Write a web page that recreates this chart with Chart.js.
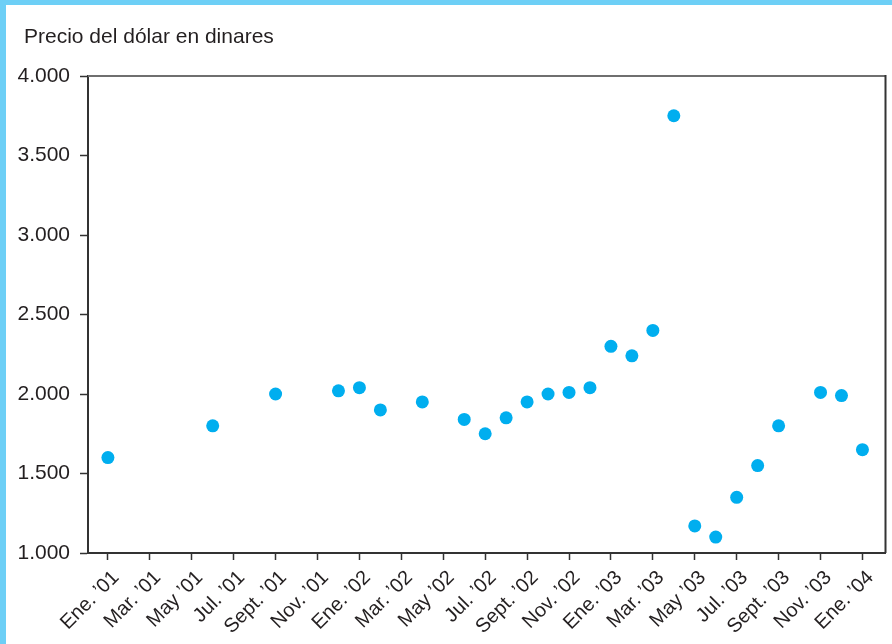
<!DOCTYPE html>
<html>
<head>
<meta charset="utf-8">
<script src="https://cdn.jsdelivr.net/npm/chart.js@4.4.1/dist/chart.umd.min.js"></script>
<style>
  html, body { margin: 0; padding: 0; background: #fff; }
  #wrap { position: relative; width: 892px; height: 644px; overflow: hidden; }
  #c { position: absolute; left: 0; top: 0; }
  .band-top { position: absolute; left: 0; top: 0; width: 892px; height: 5px; background: #6dcff6; }
  .band-left { position: absolute; left: 0; top: 0; width: 6px; height: 644px; background: #6dcff6; }
</style>
</head>
<body>
<div id="wrap">
  <canvas id="c" width="892" height="644"></canvas>
  <div class="band-top"></div>
  <div class="band-left"></div>
</div>
<script>
// ---- Data ----
const titleText = 'Precio del dólar en dinares';
const xTickLabels = ['Ene. ’01','Mar. ’01','May ’01','Jul. ’01','Sept. ’01','Nov. ’01',
  'Ene. ’02','Mar. ’02','May ’02','Jul. ’02','Sept. ’02','Nov. ’02',
  'Ene. ’03','Mar. ’03','May ’03','Jul. ’03','Sept. ’03','Nov. ’03','Ene. ’04'];
// month index counted from Ene. '01 = 0
const monthIndex = [0,5,8,11,12,13,15,17,18,19,20,21,22,23,24,25,26,27,28,29,30,31,32,34,35,36];
const prices = [1600,1800,2000,2020,2040,1900,1950,1840,1750,1850,1950,2000,2010,2040,
  2300,2240,2400,3750,1170,1100,1350,1550,1800,2010,1990,1650];
const yMin = 1000, yMax = 4000, yStep = 500;

const points = monthIndex.map((m, i) => ({ x: m, y: prices[i] }));

const textColor = '#231f20';
const fontFamily = '"Liberation Sans", Arial, Helvetica, sans-serif';

const frame = {
  id: 'frame',
  afterDraw(chart) {
    const { ctx, chartArea: a } = chart;
    ctx.save();
    ctx.lineCap = 'butt';
    ctx.strokeStyle = '#6f6f6f';
    ctx.lineWidth = 2;
    ctx.beginPath();
    ctx.moveTo(a.left, a.top);
    ctx.lineTo(a.right, a.top);
    ctx.stroke();
    ctx.strokeStyle = '#333';
    ctx.beginPath();
    ctx.moveTo(a.right, a.top - 1);
    ctx.lineTo(a.right, a.bottom);
    ctx.stroke();
    // title text
    ctx.fillStyle = textColor;
    ctx.font = '21px ' + fontFamily;
    ctx.textAlign = 'left';
    ctx.textBaseline = 'alphabetic';
    ctx.fillText(titleText, 24, 43);
    ctx.restore();
  }
};

new Chart(document.getElementById('c'), {
  type: 'scatter',
  data: {
    datasets: [{
      data: points,
      backgroundColor: '#00aeef',
      borderWidth: 0,
      pointRadius: 6.5,
      pointHoverRadius: 6.5
    }]
  },
  options: {
    responsive: false,
    animation: false,
    layout: { padding: { left: 0, right: 6, top: 76, bottom: 0 } },
    plugins: {
      legend: { display: false },
      tooltip: { enabled: false },
      title: { display: false }
    },
    scales: {
      x: {
        type: 'linear',
        min: -0.95,
        max: 37.1,
        afterBuildTicks(scale) {
          scale.ticks = xTickLabels.map((_, i) => ({ value: i * 2 }));
        },
        afterFit(scale) { scale.height = 91; },
        grid: { display: true, drawOnChartArea: false, drawTicks: true, tickLength: 7, tickColor: '#333', tickWidth: 1.5 },
        border: { display: true, color: '#333', width: 2 },
        ticks: {
          autoSkip: false,
          maxRotation: 45,
          minRotation: 45,
          padding: 6,
          labelOffset: 8,
          color: textColor,
          font: { family: fontFamily, size: 20 },
          callback: (v, i) => xTickLabels[i]
        }
      },
      y: {
        type: 'linear',
        min: yMin,
        max: yMax,
        afterFit(scale) { scale.width = 88; },
        grid: { display: true, drawOnChartArea: false, drawTicks: true, tickLength: 8, tickColor: '#333', tickWidth: 1.5 },
        border: { display: true, color: '#333', width: 2 },
        ticks: {
          stepSize: yStep,
          padding: 10,
          color: textColor,
          font: { family: fontFamily, size: 21 },
          callback: (v) => v.toLocaleString('de-DE')
        }
      }
    }
  },
  plugins: [frame]
});
</script>
</body>
</html>
